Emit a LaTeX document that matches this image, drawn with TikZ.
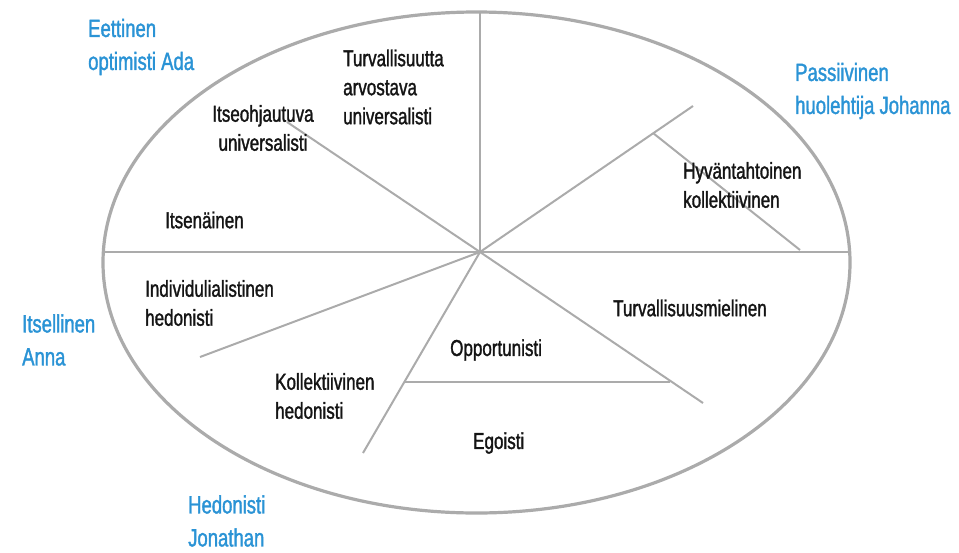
\documentclass[tikz,border=0pt]{standalone}
\usepackage{fontspec}
\setmainfont[FakeStretch=0.74,FakeBold=1.4]{Liberation Sans}
\definecolor{lblue}{HTML}{2A93D5}
\definecolor{lgray}{HTML}{ABABAB}
\definecolor{ink}{HTML}{141414}
\begin{document}
\begin{tikzpicture}[x=1pt,y=-1pt,
  rim/.style={draw=lgray,line width=3.2pt},
  spoke/.style={draw=lgray,line width=2pt},
  lbl/.style={text=ink,font=\fontsize{23}{29}\selectfont,inner sep=0pt,align=left,anchor=west},
  who/.style={text=lblue,font=\fontsize{25}{33}\selectfont,inner sep=0pt,align=left,anchor=west}]
\useasboundingbox (0,0) rectangle (959,552);
% ellipse
\draw[rim] (476.5,262.5) ellipse [x radius=373.5, y radius=250.5];
% spokes
\coordinate (c) at (480,252);
\coordinate (L) at (103.3,252);
\coordinate (R) at (849.7,252);
\coordinate (T) at (480,12);
\coordinate (ul) at (287,122);
\coordinate (ur) at (693,106);
\coordinate (urb) at (653,133);
\coordinate (urbe) at (800,250);
\coordinate (ll) at (200,357);
\coordinate (dl) at (363,453);
\coordinate (dlb) at (404,382);
\coordinate (dr) at (703,403);
\coordinate (drb) at (670,382);
\draw[spoke] (L) -- (R);
\draw[spoke] (c) -- (T);
\draw[spoke] (c) -- (ul);
\draw[spoke] (c) -- (ur);
\draw[spoke] (urb) -- (urbe);
\draw[spoke] (c) -- (ll);
\draw[spoke] (c) -- (dl);
\draw[spoke] (dlb) -- (drb);
\draw[spoke] (c) -- (dr);
% labels
\node[lbl] (t1) at (343,87) {Turvallisuutta\\arvostava\\universalisti};
\node[lbl,align=center,anchor=center] (t2) at (263,128) {Itseohjautuva\\universalisti};
\node[lbl] (t3) at (165,220) {Itsenäinen};
\node[lbl] (t4) at (683,185) {Hyväntahtoinen\\kollektiivinen};
\node[lbl] (t5) at (145,303) {Individulialistinen\\hedonisti};
\node[lbl] (t6) at (275,396) {Kollektiivinen\\hedonisti};
\node[lbl] (t7) at (450,350) {Opportunisti};
\node[lbl] (t8) at (473,443) {Egoisti};
\node[lbl] (t9) at (613,308) {Turvallisuusmielinen};
% persons
\node[who] (p1) at (88,47) {Eettinen\\optimisti Ada};
\node[who] (p2) at (795,91) {Passiivinen\\huolehtija Johanna};
\node[who] (p3) at (22,340) {Itsellinen\\Anna};
\node[who] (p4) at (188,521) {Hedonisti\\Jonathan};
\end{tikzpicture}
\end{document}
